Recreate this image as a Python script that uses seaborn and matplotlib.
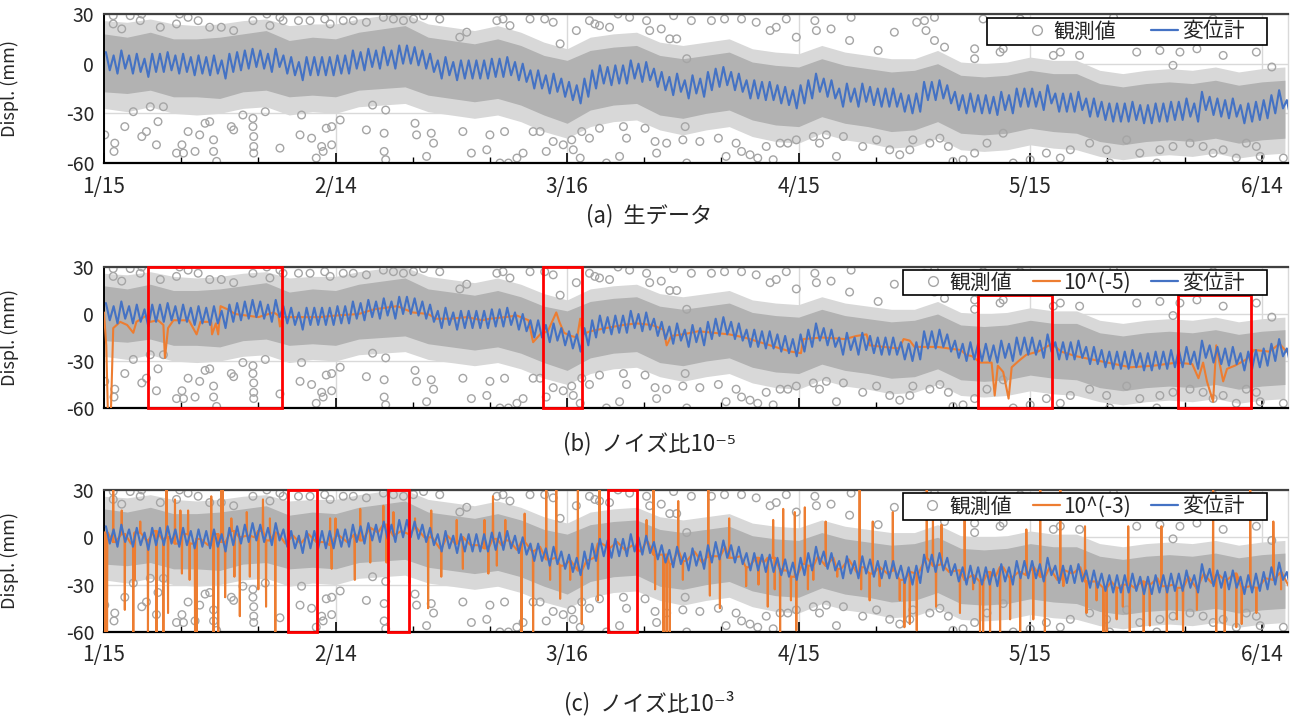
import numpy as np
import matplotlib
matplotlib.use("Agg")
import matplotlib.pyplot as plt
from matplotlib.lines import Line2D
from matplotlib.patches import Rectangle
import seaborn as sns

# x axis: days since 1/15
tick_days = [0, 30, 60, 90, 120, 150]
tick_labels = ["1/15", "2/14", "3/16", "4/15", "5/15", "6/14"]
minor_days = list(range(0, 154, 10))
y_ticks = [-60, -30, 0, 30]

# 変位計 (displacement meter), daily high / low, days 0..153
meter_hi = [7, 5, 8, 5, 6, 3, 6, 6, 7, 5,
            6, 4, 5, 4, 5, 2, 6, 7, 8, 9,
            8, 6, 9, 5, 4, 1, 4, 4, 4, 4,
            5, 5, 8, 7, 9, 8, 10, 8, 11, 11,
            10, 8, 6, 2, 4, 1, 2, 2, 2, 2,
            3, 3, 4, 1, 0, -4, -4, -7, -6, -9,
            -11, -13, -9, -4, -1, -2, -1, -1, 2, 0,
            1, -3, -5, -8, -6, -10, -7, -9, -5, -3,
            -2, -5, -6, -10, -10, -11, -11, -13, -14, -16,
            -13, -10, -6, -9, -10, -15, -12, -15, -12, -14,
            -15, -15, -15, -18, -19, -18, -11, -11, -10, -13,
            -17, -19, -18, -19, -19, -20, -17, -19, -15, -15,
            -15, -17, -13, -18, -18, -18, -17, -21, -21, -23,
            -24, -24, -24, -23, -25, -25, -24, -24, -23, -23,
            -21, -24, -17, -20, -21, -22, -21, -25, -24, -23,
            -22, -19, -16, -22]
meter_lo = [-4, -6, -3, -6, -5, -8, -5, -5, -4, -6,
            -5, -7, -6, -7, -6, -9, -5, -4, -3, -2,
            -3, -5, -2, -6, -7, -10, -7, -7, -7, -7,
            -6, -6, -3, -4, -2, -3, -1, -3, 0, 0,
            -1, -3, -5, -9, -7, -10, -9, -9, -9, -9,
            -8, -8, -7, -10, -11, -15, -15, -18, -17, -20,
            -22, -24, -20, -15, -12, -13, -12, -12, -9, -11,
            -10, -14, -16, -19, -17, -21, -18, -20, -16, -14,
            -13, -16, -17, -21, -21, -22, -22, -24, -25, -27,
            -24, -21, -17, -20, -21, -26, -23, -26, -23, -25,
            -26, -26, -26, -29, -30, -29, -22, -22, -21, -24,
            -28, -30, -29, -30, -30, -31, -28, -30, -26, -26,
            -26, -28, -24, -29, -29, -29, -28, -32, -32, -34,
            -35, -35, -35, -34, -36, -36, -35, -35, -34, -34,
            -32, -35, -28, -31, -32, -33, -32, -36, -35, -34,
            -33, -30, -27, -33]

# 観測値: envelope of the dense cloud, every 3 days
band_day = list(range(0, 154, 3))
inner_hi = [18, 16, 19, 15, 15, 16, 18, 20, 14, 16, 15, 19, 21, 23, 16, 14, 12, 15, 11, 5,
            2, 8, 10, 11, 5, 3, 5, 7, 1, -1, -2, 3, -1, -3, -5, -4, 0, -7, -8, -7,
            -4, -6, -6, -12, -14, -12, -11, -12, -10, -13, -11, -10]
inner_lo = [-17, -18, -16, -20, -20, -21, -17, -16, -20, -19, -20, -16, -15, -14, -19, -21, -23, -21, -25, -31,
            -36, -28, -25, -24, -31, -33, -30, -28, -34, -37, -38, -32, -36, -38, -41, -40, -35, -42, -43, -42,
            -39, -41, -42, -47, -49, -47, -46, -47, -45, -48, -46, -45]
outer_hi = [26, 25, 27, 24, 23, 24, 26, 27, 23, 24, 24, 27, 29, 30, 24, 22, 20, 23, 19, 13,
            9, 16, 18, 19, 13, 11, 13, 15, 9, 7, 6, 11, 7, 5, 3, 3, 8, 1, 0, 1,
            4, 2, 2, -4, -6, -4, -3, -4, -2, -5, -3, -2]
outer_lo = [-27, -29, -26, -30, -31, -30, -27, -26, -31, -29, -30, -26, -25, -24, -29, -31, -33, -31, -35, -41,
            -45, -38, -35, -34, -40, -43, -40, -38, -44, -47, -48, -42, -46, -48, -51, -50, -45, -52, -53, -52,
            -49, -51, -52, -56, -58, -56, -55, -56, -54, -57, -55, -54]

# 観測値: scattered points outside the dense cloud
obs_day = [0.1, 1.4, 1.3, 2.7, 3.8, 4.9, 5.5, 6.0, 6.8, 7.0, 7.7, 9.4, 10.1, 10.3, 10.9, 11.8,
           12.4, 13.1, 13.7, 14.2, 14.2, 14.6, 16.5, 16.8, 18.0, 19.3, 19.3, 19.4, 19.4, 19.4, 20.9, 22.8,
           25.4, 25.6, 26.9, 27.5, 28.2, 28.4, 28.8, 29.5, 29.5, 30.6, 34.0, 34.8, 36.3, 36.3, 36.5, 36.5,
           1.2, 1.2, 3.4, 4.9, 4.7, 2.3, 7.3, 9.8, 9.4, 10.9, 12.2, 13.7, 15.2, 16.8,
           19.3, 21.1, 21.5, 22.8, 23.2, 25.2, 26.7, 28.6, 29.3, 31.0, 32.3, 34.0, 36.2, 37.5,
           40.3, 40.5, 41.8, 42.4, 42.7, 46.5, 47.6, 49.6, 50.0, 51.3, 51.9, 52.4, 53.5, 54.3, 55.6, 56.5,
           57.3, 58.2, 59.5, 60.6, 60.8, 61.7, 61.9, 62.9, 64.2, 65.1, 66.8, 67.3, 67.7, 70.1, 71.4, 71.6,
           72.9, 75.0, 75.5, 75.3,
           38.8, 40.1, 41.4, 43.5, 46.1, 47.0, 50.9, 51.7, 52.6, 55.2, 57.1, 58.2, 59.1, 61.2,
           62.9, 63.6, 64.2, 65.5, 66.6, 68.1, 70.3, 70.7, 72.2, 73.3, 73.8, 74.2, 75.5,
           77.2, 79.6, 80.6, 81.9, 82.6, 83.7, 84.7, 85.8, 86.7, 87.6, 88.6, 89.7, 91.9, 92.7, 93.6,
           94.9, 95.8, 98.3, 100.1, 101.8, 103.1, 104.4, 104.8, 107.0, 108.3, 109.4, 110.0, 111.3, 112.8,
           76.1, 78.7, 80.4, 82.6, 84.5, 86.3, 87.1, 88.4, 89.7, 92.1, 92.3, 94.2,
           96.8, 96.6, 100.3, 102.4, 105.3, 106.3, 107.6, 106.5, 107.6, 108.9, 112.8, 112.8,
           114.4, 116.5, 117.8, 120.0, 122.1, 123.9, 125.2, 127.7, 129.9, 130.3, 132.5, 134.2,
           136.4, 136.8, 138.5, 140.7, 142.4, 143.7, 145.0, 146.7, 148.0, 149.3, 149.8, 152.8,
           113.9, 116.1, 116.5, 118.7, 120.8, 123.0, 123.9, 126.4, 130.8,
           133.8, 136.8, 138.5, 139.4, 141.6, 143.7, 145.0, 149.3, 151.3]
obs_val = [-43, -48, -53, -38, -29, -44, -41, -26, -49, -35, -26, -54, -49, -54, -41, -53,
           -43, -36, -35, -46, -53, -59, -38, -40, -31, -33, -38, -44, -50, -54, -29, -51,
           -43, -31, -45, -57, -50, -53, -39, -38, -49, -34, -40, -25, -42, -53, -58, -28,
           29, 24, 29, 30, 26, 21, 22, 30, 24, 28, 26, 22, 22, 20,
           26, 30, 23, 28, 26, 26, 26, 27, 24, 26, 26, 25, 28, 27,
           -36, -43, -56, -42, -48, -41, -54, -52, -43, -60, -41, -60, -57, -54, -41, -41,
           -53, -47, -49, -46, -52, -57, -41, -45, -39, -60, -56, -38, -45, -39, -47, -54,
           -48, -46, -60, -38,
           26, 27, 29, 27, 16, 19, 26, 27, 23, 27, 27, 25, 12, 20,
           26, 24, 23, 22, 30, 28, 26, 20, 21, 15, 29, 15, 3,
           -47, -45, -56, -48, -53, -55, -57, -50, -58, -48, -48, -46, -44, -48, -43,
           -56, -44, -50, -46, -52, -55, -52, -46, -48, -45, -50, -59, -58, -54,
           26, 26, 27, 27, 25, 20, 22, 27, 16, 26, 20, 21,
           28, 14, 8, 19, 25, 26, 28, 20, 14, 10, 9, 3,
           -48, -42, -60, -58, -54, -57, -52, -48, -52, -60, -46, -54,
           -60, -52, -50, -48, -50, -54, -52, -57, -48, -50, -56, -57,
           27, 7, 9, 27, 17, 5, 7, 5, 28,
           7, 8, -1, 7, 9, 27, 5, 7, -2]

# 10^(-5) estimate, panel (b)
b_day = [0.0, 0.3, 0.5, 0.9, 1.2, 2.1, 3.0, 3.8, 4.2, 5.5,
         6.0, 7.0, 7.7, 7.9, 8.3, 9.0, 11.0, 12.0, 12.5, 13.9,
         14.0, 14.5, 14.8, 15.1, 16.0, 17.0, 20.0, 22.0, 22.6, 22.8,
         23.1, 25.0, 28.0, 30.0, 33.0, 35.0, 38.0,
         40.0, 42.0, 43.0, 45.0, 47.0, 49.0, 50.0, 52.0, 53.5, 55.0,
         55.6, 56.5, 57.5, 58.6, 59.0, 59.6, 60.5, 61.3, 61.7, 62.0,
         63.0, 65.0, 67.3, 69.0, 71.0, 72.5, 72.9, 73.5, 75.0,
         77.0, 79.0, 81.0, 83.0, 85.0, 87.6, 89.0, 90.3, 90.6, 93.0,
         96.0, 97.5, 98.8, 99.2, 101.0, 103.0, 103.6, 104.4, 105.0, 108.0,
         111.0, 111.7, 112.5,
         113.5, 115.0, 115.4, 115.8, 116.5, 117.2, 117.6, 118.5, 119.5, 121.0,
         122.8, 124.0, 126.0, 128.0, 130.0, 133.0, 136.0, 139.0, 141.0, 141.8,
         142.4, 142.9, 143.7, 144.1, 144.6, 145.0, 145.5, 146.5, 148.0, 149.0,
         151.0, 152.3, 153.2]
b_val = [1, -20, -62, -62, -9, -5, -7, -12, -5, -1,
         -5, -4, -7, -28, -9, -4, -4, -13, -5, -5,
         -13, -6, -13, 5, 3, 0, -2, 1, -1, -8,
         -2, -2, -2, -1, 0, 3, 5,
         1, 0, -3, -3, -2, -4, -3, -2, -1, -4,
         -18, -13, -11, 1, -5, -12, -14, -15, -3, -13,
         -11, -9, -7, -6, -7, -10, -20, -14, -13,
         -11, -12, -13, -15, -18, -22, -24, -25, -16, -15,
         -16, -14, -13, -20, -21, -22, -16, -17, -21, -21,
         -23, -26, -27,
         -31, -31, -52, -33, -37, -54, -34, -30, -26, -24,
         -19, -24, -27, -29, -31, -34, -33, -31, -32, -41,
         -31, -43, -56, -20, -33, -43, -35, -33, -29, -23,
         -24, -19, -24]

# 10^(-3) estimate, panel (c): daily level plus single-sample spikes
c_base = [3, -3, 2, -4, 3, -2, 4, -1, 0, -4,
          2, -4, -1, -5, 2, -3, 4, 0, 1, 0,
          4, -2, 3, -4, 1, -4, 2, -3, -3, -5,
          1, -3, 2, -2, 6, 3, 8, 1, 4, 2,
          6, 0, 0, -7, 1, -4, 0, -5, -5, -7,
          -1, -5, -2, -8, -3, -9, -6, -14, -13, -18,
          -15, -21, -15, -13, -4, -7, -3, -8, -5, -9,
          -3, -11, -11, -17, -9, -15, -9, -16, -12, -12,
          -6, -13, -12, -19, -13, -16, -13, -20, -21, -25,
          -17, -18, -12, -18, -13, -20, -14, -22, -19, -23,
          -19, -23, -21, -27, -22, -23, -13, -18, -17, -22,
          -21, -27, -24, -28, -22, -25, -19, -26, -22, -24,
          -19, -25, -19, -27, -21, -23, -19, -28, -28, -32,
          -28, -32, -30, -32, -28, -30, -26, -31, -30, -32,
          -25, -32, -23, -29, -24, -27, -23, -32, -31, -32,
          -26, -27, -22, -31]
spike_day = [0.1, 0.4, 1.2, 2.3, 2.7, 3.8, 4.0, 4.7, 5.7, 6.8,
             7.7, 8.1, 8.3, 9.2, 9.9, 10.1, 10.9, 11.1, 11.8, 12.0,
             13.9, 14.2, 14.8, 15.2, 15.4, 15.7, 16.5, 16.9, 17.6, 18.5,
             18.9, 20.0, 20.6, 21.0, 21.5, 22.2, 29.3, 29.5, 30.0, 32.5,
             33.2, 34.5, 36.2, 36.6, 37.5, 39.6, 40.3, 42.0, 42.4, 43.7,
             45.7, 46.5, 49.3, 49.8, 50.4, 50.9, 52.0, 54.1, 54.5, 55.6,
             57.3, 57.8, 58.6, 59.1, 60.4, 61.4, 61.9, 64.0, 64.2, 70.3,
             71.2, 71.4, 72.5, 72.9, 73.3, 74.4, 75.0, 78.3, 78.5, 79.8,
             83.2, 86.0, 86.7, 86.9, 87.6, 88.0, 89.0, 89.5, 89.7, 90.8,
             91.2, 91.9, 97.9, 98.1, 99.2, 99.6, 100.5, 102.2, 103.1, 103.7,
             104.4, 105.3, 106.6, 107.4, 107.8, 110.9, 112.6, 113.5, 113.9, 114.8,
             116.1, 117.4, 118.7, 120.4, 121.3, 121.9, 123.9, 124.3, 127.3, 128.6,
             129.5, 129.9, 131.2, 132.0, 132.9, 134.7, 135.5, 137.7, 139.0, 139.8,
             141.6, 143.7, 144.1, 145.2, 146.7, 147.4, 148.5, 149.3, 151.5, 152.5,
             81.0, 84.8, 93.5, 95.0, 108.5, 111.5, 119.5, 127.1, 132.7, 137.0]
spike_tip = [-62, -62, 33, 17, -46, -62, -27, 10, -62, -62,
             -62, 33, -48, 24, 17, -23, 17, -27, -62, -62,
             26, -62, -62, 33, 33, -38, 12, -25, -50, 16,
             -25, -33, 24, -44, 12, -62, 12, -20, 12, -27,
             18, -16, 20, -16, 16, -29, 12, -45, 17, -25,
             11, -20, 11, -23, 26, -18, 11, -62, 15, -62,
             33, -27, 33, -39, -27, 33, -55, -40, 31, 11,
             33, -33, -62, -62, -62, 23, -27, 33, -37, -45,
             -31, -44, 11, -33, -62, 18, -40, 16, -59, 19,
             -33, -27, 33, -33, -40, 10, -31, 16, -40, -57,
             -55, -59, 33, 14, -44, -48, -33, -62, -62, -62,
             -62, -52, -62, -52, 33, -62, 33, -31, -48, -40,
             -62, -62, -52, -44, -62, -62, -56, -62, -52, -62,
             -46, 33, -62, -62, -57, -55, 33, -48, 10, -33,
             12, -30, 10, -25, 8, 15, 5, 7, 7, 7]

# red boxes (day from, day to, value from, value to)
boxes_b = [(5.7, 23.1, -60, 30), (56.9, 61.9, -60, 30), (113.3, 122.8, -60, 12), (139.1, 148.6, -60, 12)]
boxes_c = [(23.8, 27.6, -60, 30), (36.8, 39.5, -60, 30), (65.3, 69.0, -60, 30)]

captions = ["(a)  生データ", "(b)  ノイズ比10⁻⁵", "(c)  ノイズ比10⁻³"]
label_obs = "観測値"
label_meter = "変位計"
label_b = "10^(-5)"
label_c = "10^(-3)"

GREY = "#a5a5a5"
BLUE = "#4472c4"
ORANGE = "#ed7d31"

sns.set_theme(style="white")
plt.rcParams["font.family"] = ["Noto Sans CJK JP", "DejaVu Sans"]
plt.rcParams["axes.unicode_minus"] = False

meter_t = np.arange(2 * len(meter_hi)) / 2 + 0.25
meter = np.column_stack([meter_hi, meter_lo]).ravel()

# orange (c): daily level, each spike drawn as a narrow up/down stroke from that day's level
c_pts = [(d + 0.5, v) for d, v in enumerate(c_base)]
for d, tip in zip(spike_day, spike_tip):
    foot = c_base[min(int(d), len(c_base) - 1)]
    c_pts += [(d - 0.04, foot), (d, tip), (d + 0.04, foot)]
c_pts.sort()
c_day = [p[0] for p in c_pts]
c_val = [p[1] for p in c_pts]

fig = plt.figure(figsize=(12.98, 7.22), dpi=100)
ax_a = fig.add_axes([0.0801, 0.7742, 0.9122, 0.2064])
ax_b = fig.add_axes([0.0801, 0.4349, 0.9122, 0.1953])
ax_c = fig.add_axes([0.0801, 0.1247, 0.9122, 0.1967])


def draw_panel(ax, line_day, line_val, line_label, boxes, show_dates, box_y, leg_y, colsp):
    ax.fill_between(band_day, outer_lo, outer_hi, color="#d8d8d8", lw=0, zorder=1)
    ax.fill_between(band_day, inner_lo, inner_hi, color="#b2b2b2", lw=0, zorder=1.2)
    sns.scatterplot(x=obs_day, y=obs_val, ax=ax, s=30, color=GREY, facecolors="none",
                    edgecolor=GREY, linewidth=1, zorder=2, legend=False)
    handles = [Line2D([], [], ls="none", marker="o", ms=7, mfc="none", mec=GREY, mew=1)]
    labels = [label_obs]
    if line_day is not None:
        sns.lineplot(x=line_day, y=line_val, ax=ax, color=ORANGE, lw=1.5,
                     estimator=None, sort=False, zorder=3)
        handles.append(Line2D([], [], color=ORANGE, lw=1.6))
        labels.append(line_label)
    sns.lineplot(x=meter_t, y=meter, ax=ax, color=BLUE, lw=1.5,
                 estimator=None, sort=False, zorder=4)
    handles.append(Line2D([], [], color=BLUE, lw=1.6))
    labels.append(label_meter)

    for x0, x1, y0, y1 in boxes:
        ax.add_patch(Rectangle((x0, y0), x1 - x0, y1 - y0, fill=False, ec="red",
                               lw=2, zorder=6, clip_on=False))

    ax.set_xlim(0, 153.4)
    ax.set_ylim(-60, 30)
    ax.set_xticks(tick_days)
    ax.set_xticklabels(tick_labels if show_dates else [])
    ax.set_xticks(minor_days, minor=True)
    ax.set_yticks(y_ticks)
    ax.set_yticklabels([str(v) for v in y_ticks])
    ax.grid(True, axis="both", which="major", color="#d9d9d9", lw=1, zorder=0)
    ax.set_axisbelow(True)
    ax.tick_params(axis="x", which="major", direction="in", length=7, width=1.2,
                   color="black", labelsize=15, pad=9, bottom=True)
    ax.tick_params(axis="x", which="minor", direction="in", length=4, width=1,
                   color="black", bottom=True)
    ax.tick_params(axis="y", length=0, labelsize=14, pad=7)
    ax.set_ylabel("Displ. (mm)", fontsize=13)
    ax.yaxis.set_label_coords(-0.072, 0.5)
    ax.set_xlabel("")
    for side, col, w in [("top", "#404040", 1.6), ("bottom", "black", 1.6),
                         ("left", "black", 1.4), ("right", "#d9d9d9", 1)]:
        ax.spines[side].set_visible(True)
        ax.spines[side].set_color(col)
        ax.spines[side].set_linewidth(w)

    # legend box (white panel) and entries
    bx0, bx1, by0, by1 = box_y
    ax.add_patch(Rectangle((bx0, by0), bx1 - bx0, by1 - by0, transform=ax.transAxes,
                           fc="white", ec="black", lw=1.2, zorder=8, clip_on=False))
    leg = ax.legend(handles, labels, loc="center right", bbox_to_anchor=(0.963, leg_y),
                    ncol=len(labels), frameon=False, fontsize=15, handlelength=1.3,
                    handletextpad=0.15, columnspacing=colsp, borderpad=0, borderaxespad=0)
    leg.set_zorder(9)


draw_panel(ax_a, None, None, None, [], True, (0.746, 0.982, 0.792, 0.973), 0.883, 1.7)
draw_panel(ax_b, b_day, b_val, label_b, boxes_b, False, (0.675, 0.982, 0.801, 0.979), 0.890, 1.0)
draw_panel(ax_c, c_day, c_val, label_c, boxes_c, True, (0.675, 0.982, 0.789, 0.979), 0.884, 1.0)

for txt, y in zip(captions, [0.702, 0.386, 0.026]):
    fig.text(0.5, y, txt, ha="center", va="center", fontsize=16,
             family=["Noto Sans CJK JP", "DejaVu Sans"])

fig.savefig("out.png", dpi=100)
